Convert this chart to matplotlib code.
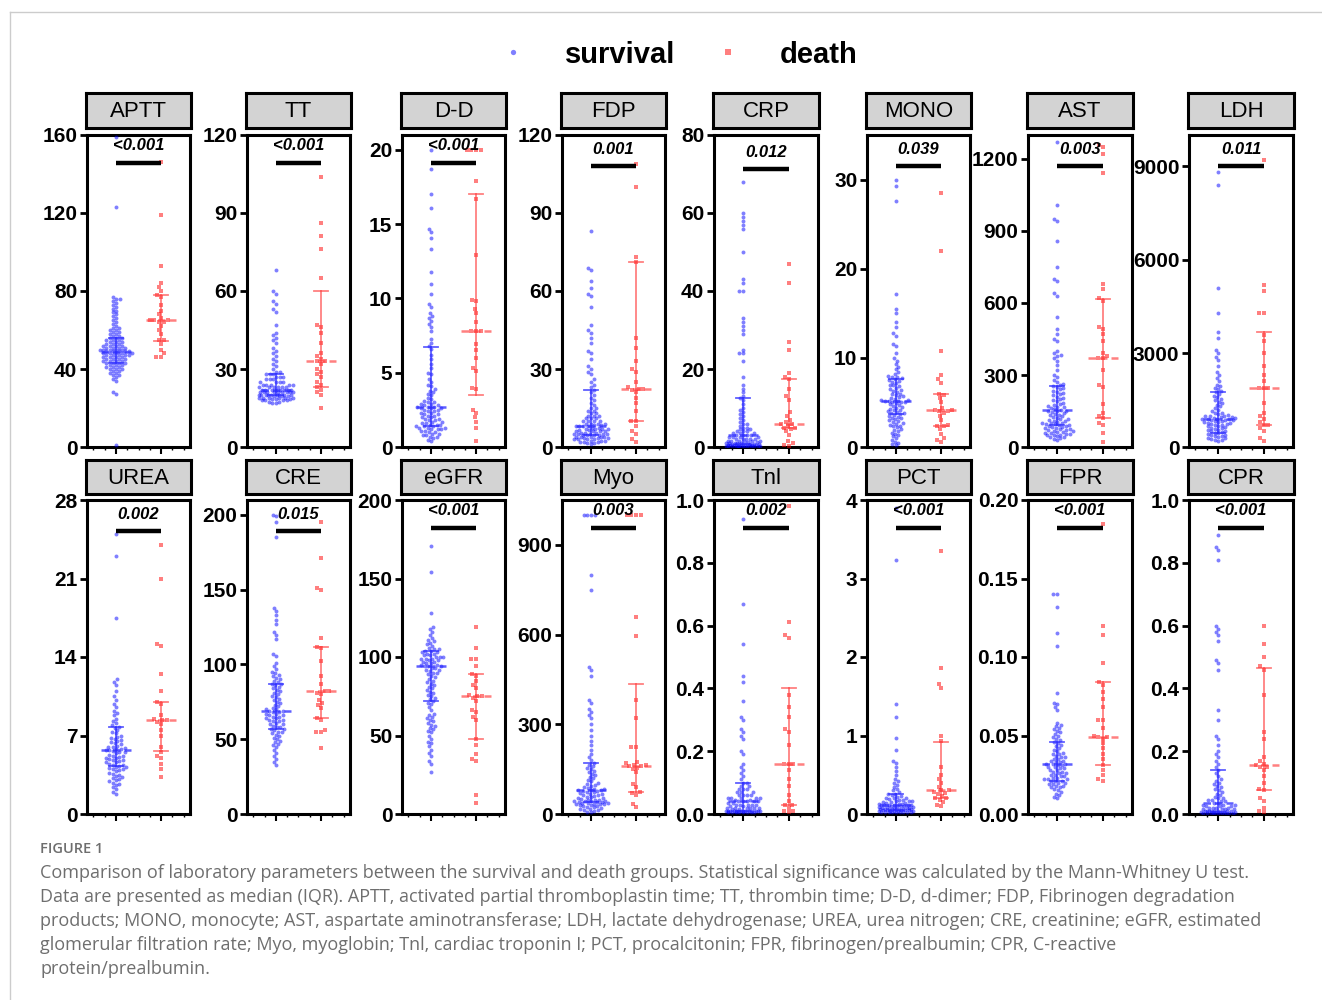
import numpy as np
import matplotlib
matplotlib.use("Agg")
import matplotlib.pyplot as plt
from matplotlib.lines import Line2D

# ---------------- data ----------------
panel_names = ["APTT", "TT", "D-D", "FDP", "CRP", "MONO", "AST", "LDH",
               "UREA", "CRE", "eGFR", "Myo", "TnI", "PCT", "FPR", "CPR"]
panel_titles = ["APTT", "TT", "D-D", "FDP", "CRP", "MONO", "AST", "LDH",
                "UREA", "CRE", "eGFR", "Myo", "Tnl", "PCT", "FPR", "CPR"]
p_values = ["<0.001", "<0.001", "<0.001", "0.001", "0.012", "0.039", "0.003", "0.011",
            "0.002", "0.015", "<0.001", "0.003", "0.002", "<0.001", "<0.001", "<0.001"]
y_max = [160, 120, 21, 120, 80, 35, 1300, 10000,
         28, 210, 200, 1050, 1.0, 4, 0.20, 1.0]
y_ticks = [[0, 40, 80, 120, 160], [0, 30, 60, 90, 120], [0, 5, 10, 15, 20],
           [0, 30, 60, 90, 120], [0, 20, 40, 60, 80], [0, 10, 20, 30],
           [0, 300, 600, 900, 1200], [0, 3000, 6000, 9000],
           [0, 7, 14, 21, 28], [0, 50, 100, 150, 200], [0, 50, 100, 150, 200],
           [0, 300, 600, 900], [0.0, 0.2, 0.4, 0.6, 0.8, 1.0], [0, 1, 2, 3, 4],
           [0.00, 0.05, 0.10, 0.15, 0.20], [0.0, 0.2, 0.4, 0.6, 0.8, 1.0]]
tick_fmt = ["{:.0f}"] * 12 + ["{:.1f}", "{:.0f}", "{:.2f}", "{:.1f}"]

# median, Q1, Q3
surv_median = [48.5, 22, 2.7, 8, 3, 5.2, 155, 900, 5.7, 69, 94, 80, 0.04, 0.12, 0.032, 0.035]
surv_q1 = [43, 20, 1.4, 4.5, 0.8, 3.7, 90, 450, 4.3, 57, 72, 40, 0.01, 0.05, 0.021, 0.005]
surv_q3 = [56, 28, 6.7, 22, 12.5, 7.6, 255, 1750, 7.8, 87, 104, 170, 0.10, 0.25, 0.046, 0.14]
death_median = [65, 33, 7.8, 22.5, 6, 4.2, 370, 1900, 8.4, 82, 75, 160, 0.16, 0.30, 0.049, 0.155]
death_q1 = [54.5, 23, 3.5, 10, 5, 2.4, 120, 700, 5.6, 64, 48, 75, 0.03, 0.20, 0.031, 0.075]
death_q3 = [78, 60, 17, 71, 17.5, 6.0, 615, 3700, 10, 112, 89, 435, 0.40, 0.92, 0.084, 0.465]

aptt_surv = [159, 123, 77, 76, 76, 75, 74, 73, 72, 71, 70, 69, 68, 67, 66, 65, 64, 63, 62, 61, 61,
             60, 60, 59, 59, 58, 58, 57, 57, 56, 56, 56, 55, 55, 55, 54, 54, 54, 53, 53, 53, 52,
             52, 52, 52, 51, 51, 51, 51, 50, 50, 50, 50, 50, 49, 49, 49, 49, 49, 48, 48, 48, 48,
             48, 47, 47, 47, 47, 47, 46, 46, 46, 46, 45, 45, 45, 45, 44, 44, 44, 44, 43, 43, 43,
             43, 42, 42, 42, 41, 41, 41, 40, 40, 40, 39, 39, 38, 38, 37, 37, 36, 35, 34, 28, 27, 1]
aptt_death = [146, 119, 93, 84, 82, 80, 78, 77, 73, 70, 68, 66, 65, 65, 65, 64, 64, 62, 60, 58,
              55, 55, 53, 50, 48, 46, 46]
tt_surv = [68, 60, 59, 56, 55, 53, 52, 47, 44, 43, 42, 41, 40, 38, 37, 36, 35, 34, 33, 32, 31, 30,
           29, 29, 28, 28, 28, 27, 27, 27, 26, 26, 26, 25, 25, 25, 25, 24, 24, 24, 24, 24, 23, 23,
           23, 23, 23, 23, 22, 22, 22, 22, 22, 22, 22, 22, 21, 21, 21, 21, 21, 21, 21, 21, 21, 20,
           20, 20, 20, 20, 20, 20, 20, 20, 19.5, 19.5, 19.5, 19, 19, 19, 19, 19, 19, 18.5, 18.5,
           18.5, 18, 18, 18, 18, 17.5, 17.5, 17, 17]
tt_death = [104, 86, 81, 76, 65, 47, 46, 44, 40, 36, 35, 34, 33, 33, 32, 30, 29, 28, 27, 25, 24,
            23, 22, 21, 20, 15]
dd_surv = [20, 18.7, 17, 16.1, 14.7, 14.5, 14.1, 13.3, 11.8, 11, 10.3, 9.6, 9.4, 9.0, 8.8, 8.7, 8.5,
           8.3, 8.1, 7.8, 7.3, 7.0, 6.8, 6.6, 6.2, 5.9, 5.6, 5.3, 5.0, 4.9, 4.6, 4.4, 4.2, 4.1, 3.9,
           3.8, 3.7, 3.6, 3.5, 3.3, 3.2, 3.1, 3.0, 3.0, 2.9, 2.9, 2.8, 2.8, 2.7, 2.7, 2.7, 2.6, 2.6,
           2.6, 2.5, 2.5, 2.4, 2.4, 2.3, 2.3, 2.2, 2.2, 2.1, 2.1, 2.0, 2.0, 1.9, 1.9, 1.8, 1.8, 1.7,
           1.7, 1.6, 1.6, 1.5, 1.5, 1.5, 1.4, 1.4, 1.4, 1.3, 1.3, 1.3, 1.2, 1.2, 1.2, 1.1, 1.1, 1.0,
           1.0, 0.9, 0.9, 0.8, 0.8, 0.7, 0.7, 0.6, 0.5, 0.4]
dd_death = [20, 20, 20, 20, 17.9, 16.7, 12.9, 9.9, 9.8, 9.3, 9.0, 8.4, 7.8, 7.8, 7.8, 6.9, 6.5,
            6.0, 5.3, 5.1, 4.0, 3.9, 2.5, 2.3, 2.0, 1.7, 1.3, 0.4]
fdp_surv = [83, 69, 68, 64, 61, 59, 58, 54, 47, 45, 44, 42, 40, 37, 36, 34, 31, 30, 29, 28, 26, 25,
            24, 23, 22, 21, 20, 19, 18, 17, 16, 15, 15, 14, 14, 13, 13, 12, 12, 12, 11, 11, 11, 10,
            10, 10, 10, 9, 9, 9, 9, 8.5, 8.5, 8, 8, 8, 8, 7.5, 7.5, 7, 7, 7, 7, 6.5, 6.5, 6, 6, 6,
            6, 5.5, 5.5, 5.5, 5, 5, 5, 5, 5, 4.5, 4.5, 4.5, 4.5, 4, 4, 4, 4, 4, 3.5, 3.5, 3.5, 3,
            3, 3, 3, 2.5, 2.5, 2.5, 2, 2, 2, 1.5, 1.5, 1]
fdp_death = [109, 100, 73, 71, 42, 38, 33, 30, 29, 25, 23, 22.5, 22.5, 22, 21, 19, 17, 14, 10, 10,
             8, 6, 5, 3, 2]
crp_surv = [68, 60, 59, 58, 57, 56, 50, 43, 42, 40, 40, 33, 32, 31, 30, 29, 25, 24, 24, 22, 18, 16,
            15, 14, 13, 12.5, 12, 11, 10, 9.5, 9, 8.5, 8, 7.5, 7, 6.5, 6, 6, 5.5, 5, 5, 4.5, 4.5,
            4, 4, 4, 3.5, 3.5, 3.5, 3, 3, 3, 3, 2.5, 2.5, 2.5, 2.5, 2, 2, 2, 2, 2, 1.5, 1.5, 1.5,
            1.5, 1.5, 1.2, 1.2, 1.2, 1, 1, 1, 1, 1, 0.8, 0.8, 0.8, 0.8, 0.6, 0.6, 0.6, 0.6, 0.5,
            0.5, 0.5, 0.5, 0.4, 0.4, 0.4, 0.4, 0.3, 0.3, 0.3, 0.3, 0.2, 0.2, 0.2, 0.2, 0.1, 0.1,
            0.1, 0.1]
crp_death = [47, 42, 27, 25, 19, 18, 17.5, 15, 13, 12, 9, 8, 7, 6.5, 6, 6, 5.5, 5, 5, 4.5, 4, 3,
             1.5, 1, 0.5, 0.3]
mono_surv = [30, 29.3, 27.6, 17.2, 15.5, 15, 14, 13.5, 12.8, 12.5, 11.5, 11.3, 10.6, 10, 9.7, 9.3,
             9, 8.7, 8.4, 8.2, 8.0, 7.9, 7.8, 7.7, 7.6, 7.5, 7.4, 7.3, 7.2, 7.0, 6.9, 6.8, 6.6,
             6.5, 6.4, 6.3, 6.2, 6.0, 5.9, 5.8, 5.7, 5.6, 5.5, 5.4, 5.3, 5.3, 5.2, 5.2, 5.2, 5.1,
             5.0, 5.0, 4.9, 4.8, 4.7, 4.6, 4.5, 4.4, 4.3, 4.2, 4.1, 4.0, 3.9, 3.8, 3.8, 3.7, 3.6,
             3.5, 3.4, 3.3, 3.2, 3.1, 3.0, 2.9, 2.8, 2.7, 2.6, 2.5, 2.4, 2.3, 2.2, 2.0, 1.9, 1.8,
             1.6, 1.5, 1.3, 1.2, 1.0, 0.8, 0.6, 0.5, 0.3, 0.2]
mono_death = [28.5, 22, 10.8, 8.1, 7.6, 7.2, 6.0, 5.8, 5.5, 5.0, 4.4, 4.2, 4.2, 4.0, 4.0, 3.8,
              3.5, 3.0, 2.5, 2.4, 2.3, 2.0, 1.5, 1.0, 0.8, 0.6]
ast_surv = [1270, 1010, 950, 940, 860, 750, 700, 690, 640, 630, 540, 490, 470, 450, 440, 400, 390,
            385, 380, 370, 360, 340, 320, 300, 290, 280, 270, 262, 258, 255, 250, 245, 240, 235,
            230, 225, 220, 215, 210, 205, 200, 195, 190, 185, 180, 175, 172, 168, 165, 162, 158,
            155, 152, 150, 148, 145, 142, 138, 135, 132, 128, 125, 122, 118, 115, 112, 110, 108,
            105, 102, 100, 98, 96, 94, 92, 90, 88, 86, 84, 82, 80, 78, 76, 74, 72, 70, 68, 66, 64,
            62, 60, 58, 56, 54, 52, 50, 48, 45, 42, 40, 36, 32, 28]
ast_death = [1260, 1250, 1220, 1140, 680, 660, 620, 610, 500, 490, 470, 440, 390, 380, 370, 370,
             320, 260, 250, 180, 140, 130, 120, 100, 90, 60, 20]
ldh_surv = [8800, 8400, 5100, 4300, 3700, 3500, 3100, 3000, 2900, 2800, 2600, 2400, 2300, 2200,
            2100, 2000, 1950, 1900, 1850, 1800, 1750, 1700, 1650, 1600, 1550, 1500, 1450, 1400,
            1350, 1300, 1250, 1200, 1150, 1100, 1080, 1050, 1020, 1000, 990, 980, 960, 950, 940,
            920, 910, 900, 900, 890, 880, 860, 850, 840, 820, 810, 800, 780, 760, 750, 740, 720,
            700, 680, 660, 640, 620, 600, 580, 560, 540, 520, 500, 480, 460, 440, 420, 400, 380,
            360, 340, 320, 300, 280, 260, 240, 220, 200]
ldh_death = [9200, 5200, 5000, 4300, 4300, 3600, 3400, 3000, 2600, 2300, 2100, 1900, 1900, 1900,
             1400, 1100, 1000, 900, 800, 700, 700, 600, 500, 300, 200]
urea_surv = [25, 23, 17.5, 12, 11.8, 11.5, 11.0, 10.5, 10.2, 9.8, 9.5, 9.2, 9.0, 8.8, 8.5, 8.3, 8.1,
             7.9, 7.8, 7.7, 7.5, 7.3, 7.2, 7.0, 6.9, 6.8, 6.7, 6.6, 6.5, 6.4, 6.3, 6.2, 6.1, 6.0,
             6.0, 5.9, 5.8, 5.8, 5.7, 5.7, 5.6, 5.5, 5.5, 5.4, 5.3, 5.2, 5.2, 5.1, 5.0, 5.0, 4.9,
             4.8, 4.8, 4.7, 4.6, 4.6, 4.5, 4.4, 4.4, 4.3, 4.2, 4.2, 4.1, 4.0, 4.0, 3.9, 3.8, 3.7,
             3.6, 3.5, 3.4, 3.3, 3.2, 3.1, 3.0, 2.9, 2.8, 2.7, 2.6, 2.4, 2.2, 2.0, 1.8]
urea_death = [24, 21, 15.2, 15, 12.5, 11, 10, 9.8, 8.8, 8.5, 8.4, 8.4, 8.2, 8.0, 7.5, 7.0, 6.0,
              5.5, 5.2, 5.0, 4.5, 4.0, 3.3]
cre_surv = [200, 199, 195, 185, 138, 136, 133, 130, 127, 122, 120, 117, 107, 106, 101, 99, 97, 95,
            94, 93, 92, 91, 90, 89, 88, 87, 87, 86, 85, 84, 83, 82, 81, 80, 79, 78, 77, 76, 75,
            74, 73, 72, 71, 70, 70, 69, 69, 68, 68, 67, 67, 66, 66, 65, 65, 64, 64, 63, 63, 62,
            62, 61, 60, 60, 59, 58, 58, 57, 57, 56, 55, 55, 54, 53, 52, 51, 50, 49, 48, 47, 46,
            45, 43, 41, 39, 37, 35, 33]
cre_death = [195, 171, 151, 150, 118, 112, 111, 102, 92, 87, 82, 82, 81, 80, 76, 74, 73, 71, 64,
             63, 56, 55, 55, 44]
egfr_surv = [171, 154, 128, 119, 118, 116, 114, 112, 111, 110, 109, 108, 107, 106, 105, 105, 104,
             104, 103, 103, 102, 102, 101, 101, 100, 100, 100, 99, 99, 99, 98, 98, 97, 97, 96, 96,
             95, 95, 94, 94, 94, 93, 93, 92, 92, 91, 90, 90, 89, 88, 87, 86, 85, 84, 83, 82, 81,
             80, 79, 78, 77, 76, 75, 74, 73, 72, 71, 70, 68, 66, 64, 63, 62, 61, 60, 59, 58, 57,
             56, 55, 54, 53, 52, 50, 48, 46, 45, 43, 41, 39, 37, 34, 32, 27]
egfr_death = [119, 106, 99, 99, 94, 89, 88, 85, 82, 80, 76, 75, 75, 74, 72, 66, 65, 62, 60, 48,
              44, 38, 35, 34, 12, 7]
myo_surv = [1000, 1000, 1000, 1000, 800, 750, 490, 480, 460, 380, 370, 350, 340, 330, 320, 300,
            280, 260, 245, 230, 215, 200, 190, 180, 172, 165, 160, 155, 150, 145, 140, 135, 130,
            125, 120, 115, 110, 105, 100, 97, 94, 91, 88, 85, 83, 81, 80, 79, 78, 76, 74, 72, 70,
            68, 66, 64, 62, 60, 58, 56, 54, 52, 50, 48, 47, 46, 45, 44, 43, 42, 41, 40, 39, 38,
            37, 36, 35, 34, 33, 32, 31, 30, 28, 26, 24, 22, 20, 18, 16, 14, 12, 10, 8, 6]
myo_death = [1000, 1000, 1000, 1000, 660, 595, 380, 320, 225, 225, 175, 170, 165, 165, 160, 160,
             155, 150, 140, 100, 90, 75, 70, 65, 35, 25]
tni_surv = [0.94, 0.67, 0.54, 0.44, 0.42, 0.36, 0.31, 0.30, 0.27, 0.26, 0.25, 0.24, 0.20, 0.19,
            0.16, 0.15, 0.14, 0.13, 0.12, 0.11, 0.10, 0.10, 0.09, 0.09, 0.08, 0.08, 0.08, 0.07,
            0.07, 0.07, 0.06, 0.06, 0.06, 0.06, 0.05, 0.05, 0.05, 0.05, 0.05, 0.045, 0.045, 0.04,
            0.04, 0.04, 0.04, 0.04, 0.035, 0.035, 0.03, 0.03, 0.03, 0.03, 0.03, 0.025, 0.025,
            0.02, 0.02, 0.02, 0.02, 0.02, 0.02, 0.015, 0.015, 0.01, 0.01, 0.01, 0.01, 0.01, 0.01,
            0.01, 0.01, 0.01, 0.01, 0.01, 0.01, 0.01, 0.01, 0.005, 0.005, 0.005, 0.005, 0.005,
            0.005, 0.005, 0.005]
tni_death = [0.98, 0.61, 0.57, 0.56, 0.38, 0.34, 0.31, 0.27, 0.26, 0.22, 0.16, 0.16, 0.16, 0.14,
             0.11, 0.09, 0.06, 0.04, 0.03, 0.03, 0.02, 0.01, 0.01, 0.005]
pct_surv = [3.9, 3.23, 1.4, 1.23, 0.97, 0.82, 0.68, 0.65, 0.6, 0.55, 0.5, 0.45, 0.42, 0.4, 0.37,
            0.35, 0.32, 0.3, 0.28, 0.26, 0.25, 0.24, 0.23, 0.22, 0.21, 0.2, 0.2, 0.19, 0.18, 0.18,
            0.17, 0.16, 0.16, 0.15, 0.15, 0.14, 0.14, 0.13, 0.13, 0.13, 0.12, 0.12, 0.12, 0.11,
            0.11, 0.11, 0.1, 0.1, 0.1, 0.1, 0.09, 0.09, 0.09, 0.08, 0.08, 0.08, 0.08, 0.07, 0.07,
            0.07, 0.07, 0.06, 0.06, 0.06, 0.06, 0.05, 0.05, 0.05, 0.05, 0.05, 0.04, 0.04, 0.04,
            0.04, 0.04, 0.03, 0.03, 0.03, 0.03, 0.03, 0.02, 0.02, 0.02, 0.02]
pct_death = [3.35, 1.86, 1.66, 1.61, 1.0, 0.93, 0.6, 0.5, 0.45, 0.4, 0.35, 0.3, 0.3, 0.28, 0.27,
             0.25, 0.23, 0.2, 0.2, 0.18, 0.15, 0.12, 0.1]
fpr_surv = [0.14, 0.14, 0.132, 0.115, 0.107, 0.077, 0.071, 0.07, 0.068, 0.066, 0.058, 0.057,
            0.056, 0.055, 0.054, 0.053, 0.052, 0.051, 0.05, 0.049, 0.048, 0.047, 0.046, 0.045,
            0.044, 0.043, 0.042, 0.041, 0.04, 0.039, 0.038, 0.038, 0.037, 0.036, 0.036, 0.035,
            0.035, 0.034, 0.034, 0.033, 0.033, 0.032, 0.032, 0.032, 0.031, 0.031, 0.030, 0.030,
            0.029, 0.029, 0.028, 0.028, 0.027, 0.027, 0.026, 0.026, 0.025, 0.025, 0.024, 0.024,
            0.023, 0.023, 0.022, 0.022, 0.022, 0.021, 0.021, 0.021, 0.02, 0.02, 0.019, 0.019,
            0.018, 0.018, 0.017, 0.017, 0.016, 0.015, 0.014, 0.013, 0.012, 0.011, 0.010]
fpr_death = [0.185, 0.12, 0.114, 0.096, 0.084, 0.082, 0.078, 0.073, 0.068, 0.06, 0.06, 0.055,
             0.05, 0.049, 0.049, 0.048, 0.045, 0.042, 0.038, 0.035, 0.031, 0.028, 0.025, 0.022,
             0.021]
cpr_surv = [0.89, 0.85, 0.84, 0.81, 0.6, 0.59, 0.58, 0.57, 0.55, 0.49, 0.48, 0.46, 0.33, 0.3,
            0.25, 0.24, 0.22, 0.2, 0.19, 0.18, 0.17, 0.16, 0.15, 0.14, 0.13, 0.12, 0.11, 0.105,
            0.1, 0.095, 0.09, 0.085, 0.08, 0.075, 0.07, 0.065, 0.06, 0.055, 0.05, 0.05, 0.045,
            0.045, 0.04, 0.04, 0.035, 0.035, 0.03, 0.03, 0.03, 0.025, 0.025, 0.025, 0.02, 0.02,
            0.02, 0.02, 0.015, 0.015, 0.015, 0.015, 0.01, 0.01, 0.01, 0.01, 0.01, 0.008, 0.008,
            0.008, 0.006, 0.006, 0.006, 0.005, 0.005, 0.005, 0.004, 0.004, 0.004, 0.003, 0.003,
            0.003, 0.002, 0.002, 0.002]
cpr_death = [0.6, 0.54, 0.5, 0.47, 0.46, 0.38, 0.26, 0.24, 0.18, 0.17, 0.16, 0.155, 0.15, 0.15,
             0.14, 0.12, 0.1, 0.08, 0.075, 0.05, 0.04, 0.02, 0.01, 0.005]

survival_data = [aptt_surv, tt_surv, dd_surv, fdp_surv, crp_surv, mono_surv, ast_surv, ldh_surv,
                 urea_surv, cre_surv, egfr_surv, myo_surv, tni_surv, pct_surv, fpr_surv, cpr_surv]
death_data = [aptt_death, tt_death, dd_death, fdp_death, crp_death, mono_death, ast_death,
              ldh_death, urea_death, cre_death, egfr_death, myo_death, tni_death, pct_death,
              fpr_death, cpr_death]

caption_lines = [
    "Comparison of laboratory parameters between the survival and death groups. Statistical significance was calculated by the Mann-Whitney U test.",
    "Data are presented as median (IQR). APTT, activated partial thromboplastin time; TT, thrombin time; D-D, d-dimer; FDP, Fibrinogen degradation",
    "products; MONO, monocyte; AST, aspartate aminotransferase; LDH, lactate dehydrogenase; UREA, urea nitrogen; CRE, creatinine; eGFR, estimated",
    "glomerular filtration rate; Myo, myoglobin; Tnl, cardiac troponin I; PCT, procalcitonin; FPR, fibrinogen/prealbumin; CPR, C-reactive",
    "protein/prealbumin.",
]

# ---------------- layout ----------------
W, H = 1322, 1000
fig = plt.figure(figsize=(W / 100, H / 100), dpi=100)
fig.patch.set_facecolor("white")

col_x = [(87, 190), (247, 350), (402, 505), (562, 665), (714, 818), (867, 970),
         (1028, 1132), (1189, 1293)]
row_y = [(135, 447), (500, 814)]
head_y = [(93, 128), (460, 494)]
bar_frac = [0.91, 0.91, 0.91, 0.90, 0.89, 0.90, 0.90, 0.90,
            0.90, 0.90, 0.91, 0.91, 0.91, 0.91, 0.91, 0.91]

X0, X1 = 0.0, 1.0
XL, XR = -0.64, 1.64

BLUE = "#0000ff"
RED = "#ff0000"
FONT = "Liberation Sans"


def swarm_offsets(vals, ymax, h_px, unit_px, d, maxw_px):
    ys = np.asarray(vals, dtype=float) * h_px / ymax
    order = np.argsort(ys)
    placed_x, placed_y = [], []
    xs = np.zeros(len(ys))
    grid = np.arange(-maxw_px, maxw_px + 0.01, 0.5)
    for i in order:
        y = ys[i]
        nb = [(px, py) for px, py in zip(placed_x, placed_y) if abs(py - y) < d]
        cands = [0.0]
        for px, py in nb:
            dx = np.sqrt(max(d * d - (py - y) ** 2, 0))
            cands += [px + dx, px - dx]
        cands = sorted(cands, key=lambda c: (abs(c), c))
        chosen = None
        for c in cands:
            if abs(c) > maxw_px:
                break
            if all((c - px) ** 2 + (y - py) ** 2 >= d * d - 1e-6 for px, py in nb):
                chosen = c
                break
        if chosen is None:
            best, bestd = 0.0, -1.0
            for g in grid:
                md = min((g - px) ** 2 + (y - py) ** 2 for px, py in nb)
                if md > bestd + 1e-9:
                    best, bestd = g, md
            chosen = best
        xs[i] = chosen
        placed_x.append(chosen)
        placed_y.append(y)
    return xs / unit_px


for k in range(16):
    r, c = divmod(k, 8)
    xl, xr = col_x[c]
    yt, yb = row_y[r]
    ax = fig.add_axes([xl / W, 1 - yb / H, (xr - xl) / W, (yb - yt) / H])
    ax.set_xlim(XL, XR)
    ax.set_ylim(0, y_max[k])
    h_px = yb - yt
    unit_px = (xr - xl) / (XR - XL)

    sv = survival_data[k]
    dv = death_data[k]
    sx = X0 + swarm_offsets(sv, y_max[k], h_px, unit_px, 3.7, 17)
    dx = X1 + swarm_offsets(dv, y_max[k], h_px, unit_px, 4.6, 17)
    ax.scatter(sx, sv, s=8, marker="o", color=BLUE, alpha=0.5, linewidths=0, zorder=3,
               clip_on=True)
    ax.scatter(dx, dv, s=11, marker="s", color=RED, alpha=0.5, linewidths=0, zorder=3,
               clip_on=True)

    # median + IQR
    for xc, med, q1, q3, col, al in [(X0, surv_median[k], surv_q1[k], surv_q3[k], "#2a2aff", 0.75),
                                      (X1, death_median[k], death_q1[k], death_q3[k], "#ff3c3c", 0.65)]:
        ax.plot([xc, xc], [q1, q3], color=col, lw=1.3, alpha=al, zorder=4)
        ax.plot([xc - 0.16, xc + 0.16], [q1, q1], color=col, lw=1.3, alpha=al, zorder=4)
        ax.plot([xc - 0.16, xc + 0.16], [q3, q3], color=col, lw=1.3, alpha=al, zorder=4)
        ax.plot([xc - 0.33, xc + 0.33], [med, med], color=col, lw=1.8, alpha=al, zorder=4,
                dashes=(3.0, 1.6))

    # significance bar + p value
    bf = bar_frac[k]
    ax.plot([X0, X1], [bf, bf], transform=ax.get_xaxis_transform(), color="black",
            lw=3.2, solid_capstyle="butt", zorder=5, clip_on=False)
    ax.text(0.5, bf + 0.055, p_values[k], transform=ax.get_xaxis_transform(),
            ha="center", va="center", fontsize=12, fontweight="bold", fontstyle="italic",
            family=FONT, zorder=6)

    # axes styling
    for sp in ax.spines.values():
        sp.set_linewidth(2.2)
        sp.set_color("black")
    ax.set_yticks(y_ticks[k])
    ax.set_yticklabels([tick_fmt[k].format(t) for t in y_ticks[k]], fontsize=15,
                       fontweight="bold", family=FONT)
    ax.set_xticks([X0, X1])
    ax.set_xticklabels([])
    ax.set_xticks([-0.5, -0.25, 0.25, 0.5, 0.75, 1.25, 1.5], minor=True)
    ax.tick_params(axis="y", direction="out", length=5, width=2, pad=2)
    ax.tick_params(axis="x", which="major", direction="out", length=5, width=1.5)
    ax.tick_params(axis="x", which="minor", direction="out", length=2, width=1)

    # header box
    hy0, hy1 = head_y[r]
    hax = fig.add_axes([(xl - 1) / W, 1 - hy1 / H, (xr - xl + 2) / W, (hy1 - hy0) / H])
    hax.set_facecolor("#d3d3d3")
    hax.set_xticks([])
    hax.set_yticks([])
    for sp in hax.spines.values():
        sp.set_linewidth(2.2)
        sp.set_color("black")
    hax.text(0.5, 0.47, panel_titles[k], ha="center", va="center", fontsize=16,
             family=FONT, transform=hax.transAxes)

# ---------------- legend ----------------
fig.add_artist(Line2D([513 / W], [1 - 52 / H], transform=fig.transFigure, marker="o",
                      markersize=3.8, color=BLUE, alpha=0.5, lw=0, markeredgewidth=0))
fig.text(565 / W, 1 - 55 / H, "survival", fontsize=21, fontweight="bold", family=FONT,
         ha="left", va="center")
fig.add_artist(Line2D([728 / W], [1 - 52 / H], transform=fig.transFigure, marker="s",
                      markersize=4.3, color=RED, alpha=0.5, lw=0, markeredgewidth=0))
fig.text(780 / W, 1 - 55 / H, "death", fontsize=21, fontweight="bold", family=FONT,
         ha="left", va="center")

# ---------------- caption ----------------
fig.text(40 / W, 1 - 849 / H, "FIGURE 1", fontsize=10.5, color="#6e6e6e", family="Open Sans",
         fontweight="semibold", ha="left", va="center")
for i, line in enumerate(caption_lines):
    fig.text(40 / W, 1 - (873 + 24 * i) / H, line, fontsize=13, color="#6e6e6e",
             family="Open Sans", ha="left", va="center")

# outer frame
fig.add_artist(Line2D([9.5 / W, 9.5 / W], [0, 1 - 11.5 / H], transform=fig.transFigure,
                      color="#cccccc", lw=1))
fig.add_artist(Line2D([9.5 / W, 1], [1 - 11.5 / H, 1 - 11.5 / H], transform=fig.transFigure,
                      color="#cccccc", lw=1))

fig.savefig("out.png", dpi=100)
